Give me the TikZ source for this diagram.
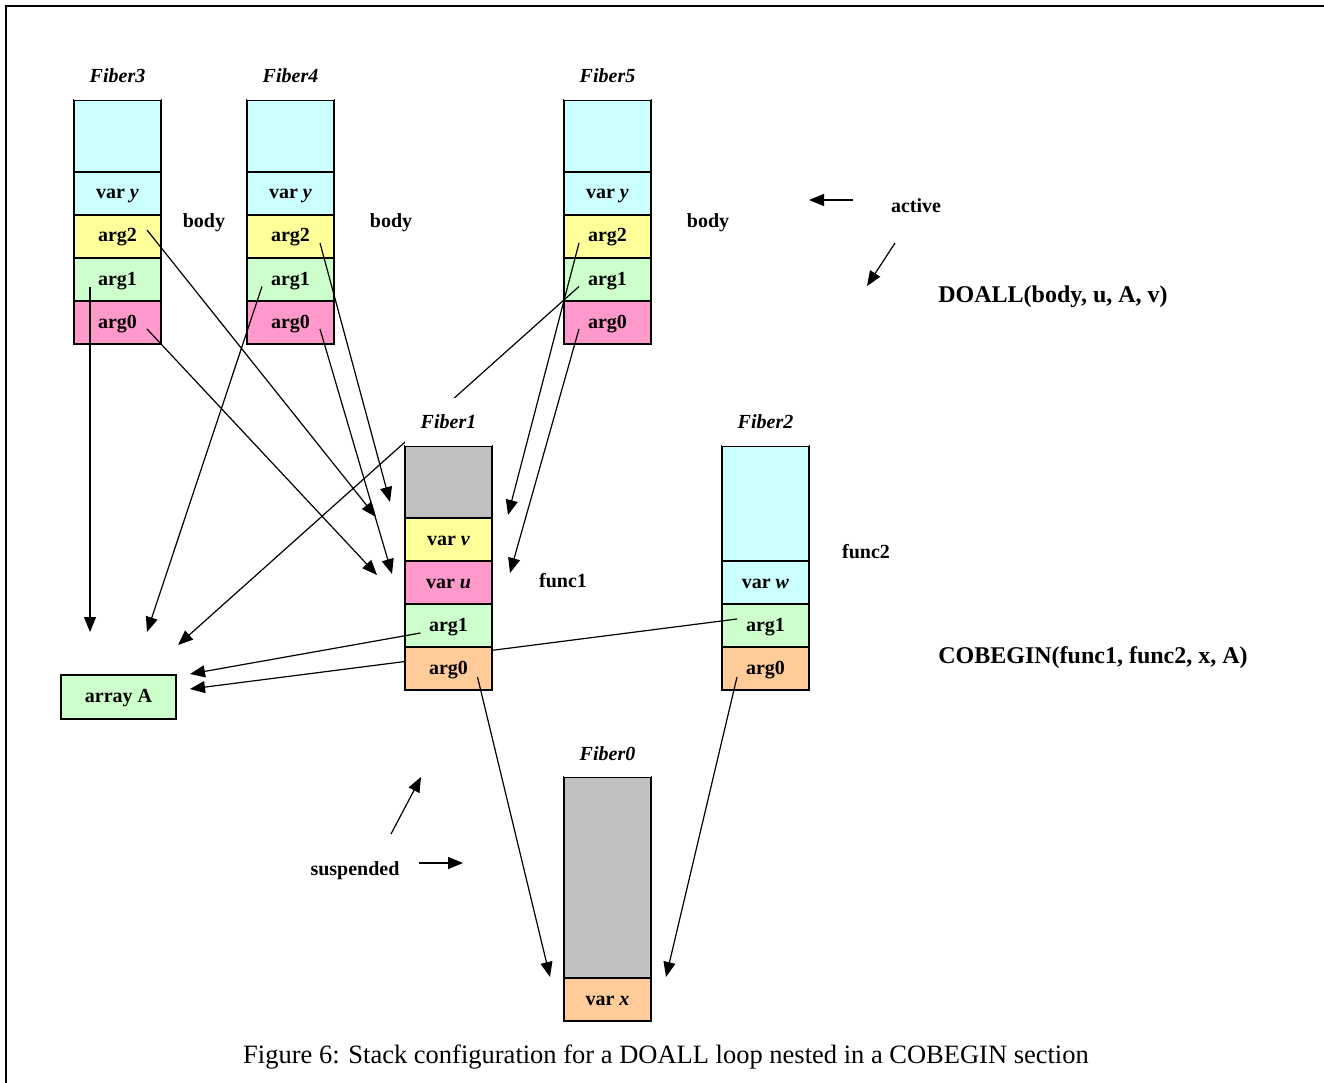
\documentclass[tikz,border=0pt]{standalone}
\usepackage{fontspec}
\setmainfont{Liberation Serif}
\usetikzlibrary{arrows.meta,positioning}
\definecolor{stkcyan}{HTML}{CCFFFF}
\definecolor{stkyellow}{HTML}{FFFF99}
\definecolor{stkgreen}{HTML}{CCFFCC}
\definecolor{stkpink}{HTML}{FF99CC}
\definecolor{stkorange}{HTML}{FFCC99}
\definecolor{stkgray}{HTML}{C0C0C0}
\tikzset{cell/.style={draw,line width=1.5pt,outer sep=0pt,inner sep=0pt,minimum width=87pt,minimum height=43pt,text height=14pt,text depth=3pt,font=\fontsize{20}{24}\selectfont\bfseries}}
\tikzset{topcell/.style={cell,minimum height=72pt,anchor=north west}}
\tikzset{fiber/.style={fill=white,outer sep=0pt,inner sep=0pt,minimum width=87pt,minimum height=48pt,font=\fontsize{20}{24}\selectfont\bfseries\itshape}}
\tikzset{lbl/.style={inner sep=0pt,font=\fontsize{20}{24}\selectfont\bfseries}}
\tikzset{call/.style={inner sep=0pt,font=\fontsize{24}{28}\selectfont\bfseries}}
\tikzset{ptr/.style={draw,line width=1.2pt,-{Triangle[length=15pt,width=12pt]}}}

\begin{document}
\begin{tikzpicture}[x=1pt,y=-1pt]
    \useasboundingbox (0,0) rectangle (1324,1083);
    \draw[line width=2pt] (6,1083) -- (6,6) -- (1324,6);

    % Fiber2 first: its arg1 pointer runs behind Fiber1
    \node[topcell,fill=stkcyan,minimum height=115pt] (f2top) at (722,446) {};
    \node[cell,fill=stkcyan,below=0pt of f2top] (f2w) {var \textit{w}};
    \node[cell,fill=stkgreen,below=0pt of f2w] (f2a1) {arg1};
    \node[cell,fill=stkorange,below=0pt of f2a1] (f2a0) {arg0};

    \node[cell,fill=stkgreen,minimum width=115pt,minimum height=44pt] (arrA) at (118.5,697) {array A};

    \coordinate (inA5) at (190,689);
    \path[ptr] ([shift={(-28.5,-6.5)}]f2a1.center) -- (inA5);

    % Fiber1
    \node[topcell,fill=stkgray] (f1top) at (405,446) {};
    \node[cell,fill=stkyellow,below=0pt of f1top] (f1v) {var \textit{v}};
    \node[cell,fill=stkpink,below=0pt of f1v] (f1u) {var \textit{u}};
    \node[cell,fill=stkgreen,below=0pt of f1u] (f1a1) {arg1};
    \node[cell,fill=stkorange,below=0pt of f1a1] (f1a0) {arg0};

    % Fiber3
    \node[topcell,fill=stkcyan] (f3top) at (74,100) {};
    \node[cell,fill=stkcyan,below=0pt of f3top] (f3y) {var \textit{y}};
    \node[cell,fill=stkyellow,below=0pt of f3y] (f3a2) {arg2};
    \node[cell,fill=stkgreen,below=0pt of f3a2] (f3a1) {arg1};
    \node[cell,fill=stkpink,below=0pt of f3a1] (f3a0) {arg0};

    % Fiber4
    \node[topcell,fill=stkcyan] (f4top) at (247,100) {};
    \node[cell,fill=stkcyan,below=0pt of f4top] (f4y) {var \textit{y}};
    \node[cell,fill=stkyellow,below=0pt of f4y] (f4a2) {arg2};
    \node[cell,fill=stkgreen,below=0pt of f4a2] (f4a1) {arg1};
    \node[cell,fill=stkpink,below=0pt of f4a1] (f4a0) {arg0};

    % Fiber5
    \node[topcell,fill=stkcyan] (f5top) at (564,100) {};
    \node[cell,fill=stkcyan,below=0pt of f5top] (f5y) {var \textit{y}};
    \node[cell,fill=stkyellow,below=0pt of f5y] (f5a2) {arg2};
    \node[cell,fill=stkgreen,below=0pt of f5a2] (f5a1) {arg1};
    \node[cell,fill=stkpink,below=0pt of f5a1] (f5a0) {arg0};

    % Fiber0
    \node[topcell,fill=stkgray,minimum height=201pt] (f0top) at (564,777) {};
    \node[cell,fill=stkorange,below=0pt of f0top] (f0x) {var \textit{x}};

    % pointer ends
    \coordinate (inA1) at (90,632);
    \coordinate (inA2) at (147,632);
    \coordinate (inA3) at (178,645);
    \coordinate (inA4) at (190,674);
    \coordinate (atV3) at (376,517);
    \coordinate (atU3) at (377,575);
    \coordinate (atV4) at (390,502);
    \coordinate (atU4) at (392,574);
    \coordinate (atV5) at (508,515);
    \coordinate (atU5) at (510,573);
    \coordinate (atX1) at (550,977);
    \coordinate (atX2) at (666,977);

    \path[ptr] ([shift={(-27.5,7)}]f3a1.center) -- (inA1);
    \path[ptr] ([shift={(29.5,-6.5)}]f3a2.center) -- (atV3);
    \path[ptr] ([shift={(29.5,6.5)}]f3a0.center) -- (atU3);
    \path[ptr] ([shift={(-28.5,7)}]f4a1.center) -- (inA2);
    \path[ptr] ([shift={(29.5,6.5)}]f4a2.center) -- (atV4);
    \path[ptr] ([shift={(29.5,6.5)}]f4a0.center) -- (atU4);
    \path[ptr] ([shift={(-28.5,6.5)}]f5a2.center) -- (atV5);
    \path[ptr] ([shift={(-28.5,7)}]f5a1.center) -- (inA3);
    \path[ptr] ([shift={(-28.5,6.5)}]f5a0.center) -- (atU5);
    \path[ptr] ([shift={(-28,7.5)}]f1a1.center) -- (inA4);
    \path[ptr] ([shift={(29,8.5)}]f1a0.center) -- (atX1);
    \path[ptr] ([shift={(-28.5,8.5)}]f2a0.center) -- (atX2);

    % fiber names
    \node[fiber,above=0pt of f3top] (n3) {Fiber3};
    \node[fiber,above=0pt of f4top] (n4) {Fiber4};
    \node[fiber,above=0pt of f5top] (n5) {Fiber5};
    \node[fiber,above=0pt of f1top] (n1) {Fiber1};
    \node[fiber,above=0pt of f2top] (n2) {Fiber2};
    \node[fiber,above=0pt of f0top,minimum height=46pt] (n0) {Fiber0};

    % function names
    \node[lbl] (body3) at (204,223) {body};
    \node[lbl] (body4) at (391,223) {body};
    \node[lbl] (body5) at (708,223) {body};
    \node[lbl] (func1) at (563,581) {func1};
    \node[lbl] (func2) at (866,552) {func2};

    % legend
    \node[lbl] (active) at (916,206) {active};
    \node[lbl] (susp) at (355,871) {suspended};
    \node[call] (doall) at (1053,297) {DOALL(body, u, A, v)};
    \node[call] (cobegin) at (1093,658) {COBEGIN(func1, func2, x, A)};

    \coordinate (act0) at (853,200);
    \coordinate (act1) at (809,200);
    \coordinate (act2) at (895,243);
    \coordinate (act3) at (867,286);
    \coordinate (sus0) at (419,863);
    \coordinate (sus1) at (463,863);
    \coordinate (sus2) at (391,834);
    \coordinate (sus3) at (421,777);
    \path[ptr] (act0) -- (act1);
    \path[ptr] (act2) -- (act3);
    \path[ptr] (sus0) -- (sus1);
    \path[ptr] (sus2) -- (sus3);

    \node[inner sep=0pt,font=\fontsize{26.5}{31}\selectfont] (caption) at (666,1057)
        {Figure 6: Stack configuration for a DOALL loop nested in a COBEGIN section};
\end{tikzpicture}
\end{document}
